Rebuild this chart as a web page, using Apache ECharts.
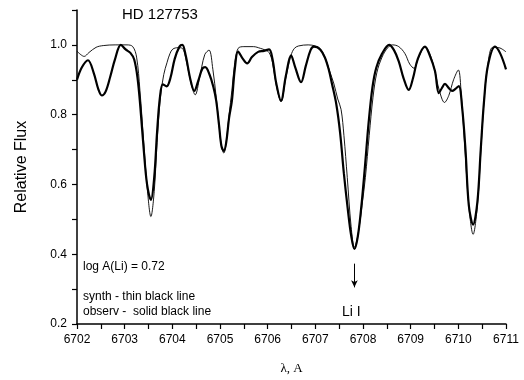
<!DOCTYPE html>
<html>
<head>
<meta charset="utf-8">
<script src="https://cdn.jsdelivr.net/npm/echarts@6/dist/echarts.min.js"></script>
<style>
  html, body { margin: 0; padding: 0; background: #fff; }
  #chart { width: 524px; height: 380px; }
</style>
</head>
<body>
<div id="chart"></div>
<script>
// observed spectrum (thick line)
const waveObs = [
  6702.00, 6702.10, 6702.23, 6702.35, 6702.45, 6702.52, 6702.60, 6702.70, 6702.80, 6702.92,
  6703.02, 6703.12, 6703.20, 6703.27, 6703.33, 6703.40, 6703.47, 6703.55, 6703.62, 6703.68,
  6703.74, 6703.80, 6703.88, 6703.96, 6704.05, 6704.15, 6704.21, 6704.28, 6704.38, 6704.46,
  6704.55, 6704.63, 6704.69, 6704.78, 6704.86, 6704.92, 6704.98, 6705.03, 6705.08, 6705.13,
  6705.19, 6705.25, 6705.31, 6705.38, 6705.48, 6705.57, 6705.67, 6705.80, 6705.92, 6706.03,
  6706.10, 6706.18, 6706.28, 6706.38, 6706.49, 6706.58, 6706.70, 6706.80, 6706.90, 6706.97,
  6707.10, 6707.20, 6707.28, 6707.35, 6707.44, 6707.52, 6707.60, 6707.68, 6707.75, 6707.82,
  6707.89, 6707.96, 6708.04, 6708.12, 6708.20, 6708.28, 6708.40, 6708.55, 6708.65, 6708.75,
  6708.85, 6708.96, 6709.05, 6709.15, 6709.30, 6709.40, 6709.51, 6709.59, 6709.65, 6709.72,
  6709.80, 6709.87, 6709.94, 6710.01, 6710.08, 6710.15, 6710.22, 6710.31, 6710.40, 6710.47,
  6710.54, 6710.62, 6710.77, 6710.88, 6711.00
];
const fluxObs = [
  0.900, 0.935, 0.956, 0.920, 0.872, 0.855, 0.866, 0.910, 0.960, 1.000,
  0.987, 0.977, 0.958, 0.905, 0.820, 0.700, 0.600, 0.556, 0.620, 0.750,
  0.850, 0.887, 0.881, 0.905, 0.960, 0.995, 1.000, 0.970, 0.900, 0.868,
  0.900, 0.932, 0.936, 0.915, 0.880, 0.840, 0.770, 0.710, 0.696, 0.720,
  0.790, 0.840, 0.930, 0.981, 0.960, 0.947, 0.965, 0.980, 0.983, 0.987,
  0.960, 0.890, 0.840, 0.910, 0.970, 0.935, 0.893, 0.940, 0.985, 0.995,
  0.987, 0.964, 0.930, 0.888, 0.830, 0.748, 0.630, 0.530, 0.455, 0.415,
  0.450, 0.530, 0.650, 0.780, 0.880, 0.935, 0.975, 1.000, 0.985, 0.953,
  0.905, 0.871, 0.905, 0.960, 0.995, 0.970, 0.925, 0.862, 0.875, 0.888,
  0.876, 0.868, 0.874, 0.882, 0.820, 0.700, 0.540, 0.485, 0.550, 0.700,
  0.840, 0.940, 0.995, 0.975, 0.930
];

// synthetic spectrum (thin line)
const waveSyn = [
  6702.00, 6702.08, 6702.15, 6702.25, 6702.40, 6702.55, 6702.80, 6703.05, 6703.17, 6703.25,
  6703.32, 6703.40, 6703.48, 6703.55, 6703.62, 6703.68, 6703.75, 6703.82, 6703.89, 6703.95,
  6704.01, 6704.12, 6704.21, 6704.30, 6704.40, 6704.48, 6704.57, 6704.68, 6704.77, 6704.85,
  6704.92, 6704.98, 6705.03, 6705.08, 6705.13, 6705.19, 6705.25, 6705.31, 6705.38, 6705.50,
  6705.70, 6705.85, 6705.95, 6706.03, 6706.10, 6706.18, 6706.28, 6706.38, 6706.49, 6706.56,
  6706.65, 6706.85, 6707.00, 6707.10, 6707.20, 6707.30, 6707.39, 6707.47, 6707.54, 6707.60,
  6707.67, 6707.75, 6707.82, 6707.90, 6707.98, 6708.05, 6708.13, 6708.21, 6708.29, 6708.40,
  6708.52, 6708.62, 6708.75, 6708.88, 6708.98, 6709.07, 6709.17, 6709.30, 6709.40, 6709.50,
  6709.60, 6709.71, 6709.80, 6709.90, 6710.00, 6710.06, 6710.13, 6710.22, 6710.31, 6710.40,
  6710.47, 6710.54, 6710.62, 6710.72, 6710.85, 6711.00
];
const fluxSyn = [
  0.982, 0.972, 0.967, 0.978, 0.993, 0.998, 1.000, 1.000, 0.995, 0.965,
  0.870, 0.720, 0.580, 0.508, 0.580, 0.720, 0.850, 0.915, 0.950, 0.975,
  0.988, 0.992, 0.990, 0.950, 0.885, 0.857, 0.905, 0.972, 0.985, 0.930,
  0.850, 0.770, 0.710, 0.690, 0.720, 0.800, 0.870, 0.950, 0.990, 0.995,
  0.995, 0.990, 0.985, 0.978, 0.950, 0.885, 0.837, 0.905, 0.970, 0.990,
  0.997, 1.000, 0.997, 0.990, 0.965, 0.925, 0.888, 0.845, 0.815, 0.740,
  0.620, 0.480, 0.420, 0.460, 0.540, 0.620, 0.740, 0.850, 0.920, 0.965,
  0.992, 1.000, 0.995, 0.975, 0.945, 0.933, 0.965, 0.995, 0.975, 0.930,
  0.870, 0.835, 0.855, 0.900, 0.928, 0.860, 0.720, 0.540, 0.457, 0.540,
  0.690, 0.840, 0.945, 0.993, 0.992, 0.980
];

// Li I marker arrow (wavelength, flux from -> to)
const liWave = 6707.82;
const liArrow = [0.373, 0.305];

const font = "'Liberation Sans', Arial, sans-serif";

const pairs = (xs, ys) => xs.map((x, i) => [x, ys[i]]);

const chart = echarts.init(document.getElementById("chart"));
chart.setOption({
  animation: false,
  backgroundColor: "#fff",
  grid: { left: 77, right: 18, top: 10, bottom: 51 },
  xAxis: {
    type: "value",
    min: 6702,
    max: 6711,
    interval: 0.5,
    name: "λ, A",
    nameLocation: "middle",
    nameGap: 38,
    nameTextStyle: { fontFamily: "'Liberation Serif', 'Times New Roman', serif", fontSize: 13, color: "#000" },
    axisLine: { lineStyle: { color: "#000", width: 1.5 } },
    axisTick: { length: 5, lineStyle: { color: "#000", width: 1.2 } },
    axisLabel: {
      color: "#000", fontFamily: font, fontSize: 12, margin: 10,
      formatter: (v) => (Math.abs(v - Math.round(v)) < 1e-6 ? String(Math.round(v)) : ""),
    },
    splitLine: { show: false },
  },
  yAxis: {
    type: "value",
    min: 0.2,
    max: 1.1,
    interval: 0.1,
    name: "Relative Flux",
    nameLocation: "middle",
    nameGap: 47,
    nameRotate: 90,
    nameTextStyle: { fontFamily: font, fontSize: 16, color: "#000" },
    axisLine: { show: true, lineStyle: { color: "#000", width: 1.5 } },
    axisTick: { show: true, length: 5, lineStyle: { color: "#000", width: 1.2 } },
    axisLabel: {
      color: "#000", fontFamily: font, fontSize: 12, margin: 10,
      formatter: (v) => {
        const k = Math.round(v * 10);
        return k % 2 === 0 && k <= 10 ? (k / 10).toFixed(1) : "";
      },
    },
    splitLine: { show: false },
  },
  series: [
    {
      name: "synth",
      type: "line",
      data: pairs(waveSyn, fluxSyn),
      showSymbol: false,
      smooth: 0.35,
      lineStyle: { color: "#000", width: 0.9 },
      z: 3,
    },
    {
      name: "observ",
      type: "line",
      data: pairs(waveObs, fluxObs),
      showSymbol: false,
      smooth: 0.35,
      lineStyle: { color: "#000", width: 2.2 },
      z: 2,
      markLine: {
        silent: true,
        symbol: ["none", "arrow"],
        symbolSize: [5, 7],
        label: { show: false },
        lineStyle: { color: "#000", width: 1, type: "solid" },
        data: [[{ coord: [liWave, liArrow[0]] }, { coord: [liWave, liArrow[1]] }]],
      },
    },
  ],
  graphic: [
    { type: "text", left: 122, top: 7, style: { text: "HD 127753", font: `15px ${font}`, fill: "#000" } },
    { type: "text", left: 83, top: 261, style: { text: "log A(Li) = 0.72", font: `12px ${font}`, fill: "#000" } },
    { type: "text", left: 83, top: 291, style: { text: "synth - thin black line", font: `12px ${font}`, fill: "#000" } },
    { type: "text", left: 83, top: 306, style: { text: "observ -  solid black line", font: `12px ${font}`, fill: "#000" } },
    { type: "text", left: 342, top: 305, style: { text: "Li I", font: `14px ${font}`, fill: "#000" } },
  ],
});
</script>
</body>
</html>
